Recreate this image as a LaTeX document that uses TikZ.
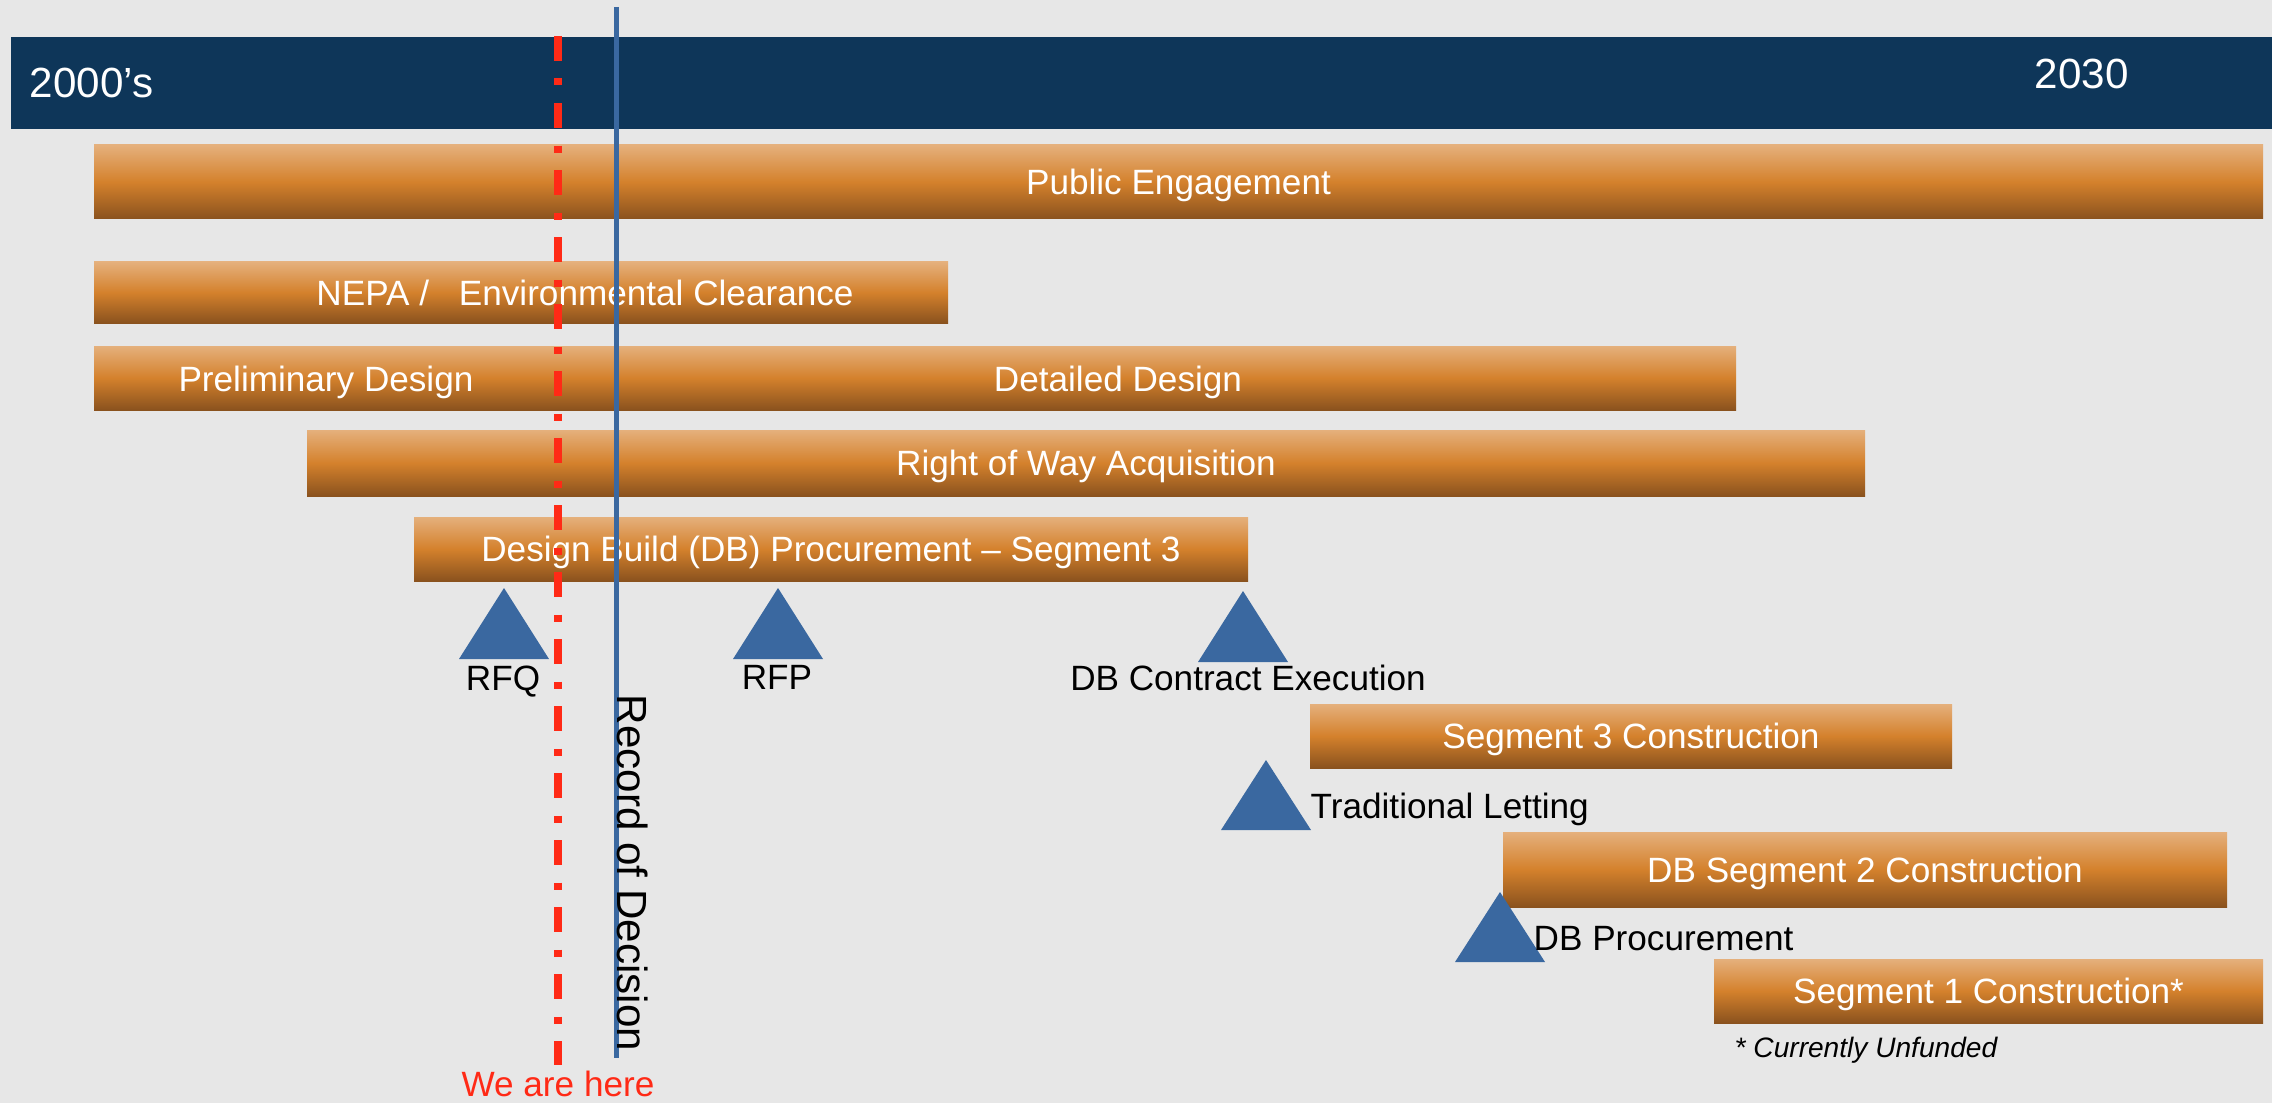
\documentclass[tikz,border=0pt]{standalone}
\usepackage{fontspec}
\setmainfont{Liberation Sans}

\definecolor{slidegray}{RGB}{231,231,231}
\definecolor{timenavy}{RGB}{14,54,89}
\definecolor{barlight}{RGB}{229,176,124}
\definecolor{barmid}{RGB}{212,129,44}
\definecolor{bardark}{RGB}{138,82,30}
\definecolor{markblue}{RGB}{58,104,160}
\definecolor{nowred}{RGB}{255,42,22}

\tikzset{
  cap_text/.style={text height=0.716em, text depth=0pt},
  phase/.style={rectangle, inner sep=0pt, outer sep=0pt, anchor=north west, cap_text,
    top color=barlight, bottom color=bardark, middle color=barmid, text=white},
  phase_text/.style={inner sep=0pt, cap_text, text=white},
  milestone/.style={fill=markblue},
  mark_label/.style={inner sep=0pt, cap_text, text=black},
  now_line/.style={nowred, line width=0.08cm,
    dash pattern=on 0.25cm off 0.175cm on 0.07cm off 0.175cm},
  rod_line/.style={markblue, line width=0.05cm}
}

\begin{document}
\def\xnow{5.58}
\def\xrod{6.16}

\begin{tikzpicture}
    \fill[slidegray] (0,0) rectangle (22.72,-11.03);
    \useasboundingbox (0,0) rectangle (22.72,-11.03);

    % time axis
    \node[rectangle, fill=timenavy, inner sep=0pt, anchor=north west,
      minimum width=22.62cm, minimum height=0.92cm] (time_axis) at (0.10,-0.36) {};
    \node[phase_text, anchor=west, font=\fontsize{12}{14}\selectfont] (start_year) at (0.29,-0.85) {2000’s};
    \node[phase_text, anchor=west, font=\fontsize{12}{14}\selectfont] (end_year) at (20.34,-0.76) {2030};

    % phases
    \node[phase, minimum width=21.69cm, minimum height=0.74cm] (public_engagement) at (0.94,-1.45) {Public Engagement};
    \node[phase, minimum width=8.54cm, minimum height=0.61cm] (nepa) at (0.94,-2.62) {};
    \node[phase_text] (nepa_text) at (5.85,-2.93) {NEPA /\hspace{0.85em}Environmental Clearance};
    \node[phase, minimum width=16.42cm, minimum height=0.64cm] (design) at (0.94,-3.46) {};
    \node[phase_text] (preliminary_text) at (3.26,-3.79) {Preliminary Design};
    \node[phase_text] (detailed_text) at (11.18,-3.79) {Detailed Design};
    \node[phase, minimum width=15.58cm, minimum height=0.66cm] (right_of_way) at (3.07,-4.30) {Right of Way Acquisition};
    \node[phase, minimum width=8.34cm, minimum height=0.64cm] (db_procurement) at (4.14,-5.17) {Design Build (DB) Procurement – Segment 3};
    \node[phase, minimum width=6.42cm, minimum height=0.64cm] (segment_3) at (13.10,-7.04) {Segment 3 Construction};
    \node[phase, minimum width=7.24cm, minimum height=0.75cm] (segment_2) at (15.03,-8.32) {DB Segment 2 Construction};
    \node[phase, minimum width=5.49cm, minimum height=0.64cm] (segment_1) at (17.14,-9.59) {Segment 1 Construction*};
    \node[mark_label, anchor=west, font=\fontsize{8}{10}\selectfont\itshape] (unfunded) at (17.34,-10.45) {* Currently Unfunded};

    % milestones
    \fill[milestone] (5.04,-5.88)  -- ++(-0.45,-0.71) -- ++(0.90,0) -- cycle;
    \fill[milestone] (7.78,-5.88)  -- ++(-0.45,-0.71) -- ++(0.90,0) -- cycle;
    \fill[milestone] (12.43,-5.91) -- ++(-0.45,-0.71) -- ++(0.90,0) -- cycle;
    \fill[milestone] (12.66,-7.60) -- ++(-0.45,-0.70) -- ++(0.90,0) -- cycle;
    \fill[milestone] (15.00,-8.92) -- ++(-0.45,-0.70) -- ++(0.90,0) -- cycle;

    \node[mark_label] (rfq) at (5.03,-6.78) {RFQ};
    \node[mark_label] (rfp) at (7.77,-6.77) {RFP};
    \node[mark_label] (contract) at (12.48,-6.78) {DB Contract Execution};
    \node[mark_label, anchor=west] (letting) at (13.10,-8.06) {Traditional Letting};
    \node[mark_label, anchor=west] (db_proc) at (15.33,-9.38) {DB Procurement};

    % record of decision and today
    \coordinate (rod_top) at (\xrod,-0.07);
    \coordinate (rod_bottom) at (\xrod,-10.58);
    \coordinate (now_top) at (\xnow,-0.36);
    \coordinate (now_bottom) at (\xnow,-10.65);

    \draw[now_line] (now_top) -- (now_bottom);
    \draw[rod_line] (rod_top) -- (rod_bottom);

    \node[inner sep=0pt, rotate=-90, font=\fontsize{12}{14}\selectfont] (rod_text) at (6.33,-8.73) {Record of Decision};
    \node[inner sep=0pt, text=nowred] (we_are_here) at (\xnow,-10.84) {We are here};
  \end{tikzpicture}
\end{document}
